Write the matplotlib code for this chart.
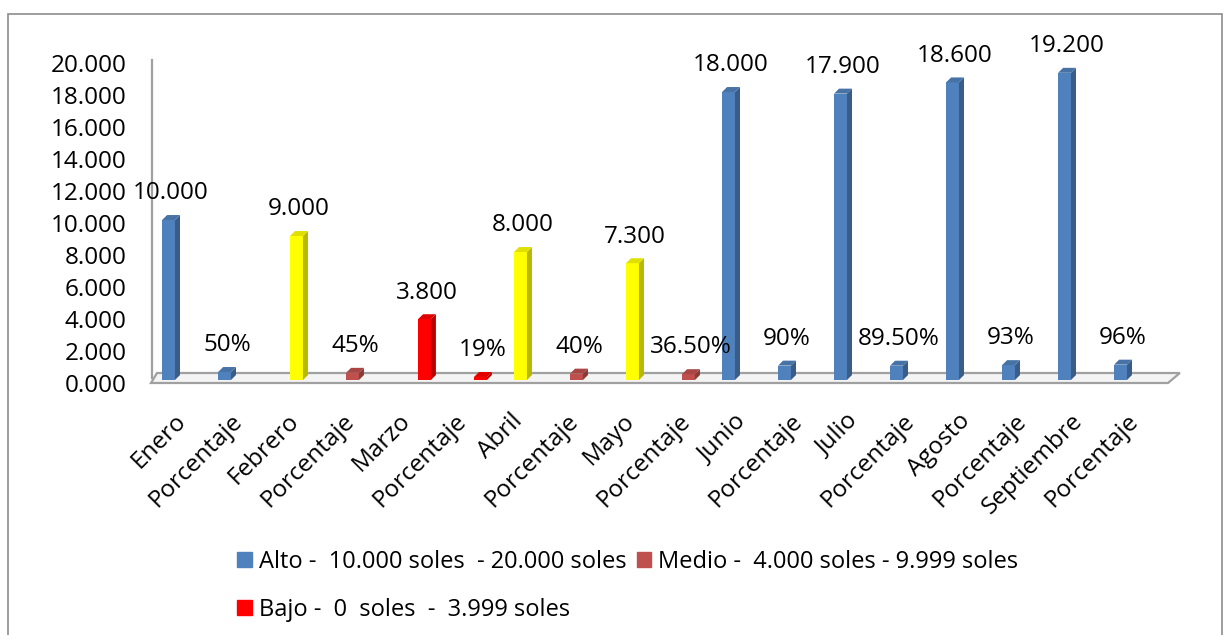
import numpy as np
import matplotlib
matplotlib.use('Agg')
from matplotlib import pyplot as plt
from matplotlib.patches import Polygon, Rectangle
from matplotlib.transforms import ScaledTranslation
from matplotlib.colors import to_rgb

plt.rcParams['font.family'] = ['Open Sans', 'DejaVu Sans']

# datos
categorias = ['Enero', 'Porcentaje', 'Febrero', 'Porcentaje', 'Marzo', 'Porcentaje',
              'Abril', 'Porcentaje', 'Mayo', 'Porcentaje', 'Junio', 'Porcentaje',
              'Julio', 'Porcentaje', 'Agosto', 'Porcentaje', 'Septiembre', 'Porcentaje']
valores = [10.0, 0.50, 9.0, 0.45, 3.8, 0.19, 8.0, 0.40, 7.3, 0.365,
           18.0, 0.90, 17.9, 0.895, 18.6, 0.93, 19.2, 0.96]
etiquetas = ['10.000', '50%', '9.000', '45%', '3.800', '19%', '8.000', '40%',
             '7.300', '36.50%', '18.000', '90%', '17.900', '89.50%', '18.600',
             '93%', '19.200', '96%']
serie = ['Alto', 'Alto', 'Medio', 'Medio', 'Bajo', 'Bajo', 'Medio', 'Medio',
         'Medio', 'Medio', 'Alto', 'Alto', 'Alto', 'Alto', 'Alto', 'Alto',
         'Alto', 'Alto']
series = ['Alto', 'Medio', 'Bajo']
leyenda = ['Alto -  10.000 soles  - 20.000 soles',
           'Medio -  4.000 soles - 9.999 soles',
           'Bajo -  0  soles  -  3.999 soles']
yticks = [0, 2, 4, 6, 8, 10, 12, 14, 16, 18, 20]

color_serie = {'Alto': '#4F81BD', 'Medio': '#C0504D', 'Bajo': '#FF0000'}
amarillo = '#FFFF00'

W_PX, H_PX = 1229, 635
fig = plt.figure(figsize=(W_PX / 100, H_PX / 100), dpi=100)

# marco exterior
fig.add_artist(Rectangle((7.5 / W_PX, -0.05), (1221.5 - 7.5) / W_PX, 1.05 - 14 / H_PX,
                         transform=fig.transFigure, fill=False,
                         edgecolor='#8C8C8C', lw=1.2))

ax = fig.add_axes([149 / W_PX, (H_PX - 383) / H_PX, 1019 / W_PX, 323 / H_PX])
ax.set_xlim(-0.6786, 17.518)
ax.set_ylim(-0.1875, 20)
ax.patch.set_alpha(0)
for s in ax.spines.values():
    s.set_visible(False)

# piso y pared
piso = Polygon([(-0.643, -0.1875), (17.518, -0.1875), (17.73, 0.4375), (-0.536, 0.4375)],
               closed=True, facecolor='#F4F4F4', edgecolor='#A0A0A0', lw=1.6,
               clip_on=False, zorder=1)
ax.add_patch(piso)
ax.plot([-0.625, -0.625], [0.1, 20], color='#A0A0A0', lw=1.6, clip_on=False, zorder=1)

ancho = 0.23
dx, dy = 0.09, 0.31
desp = {'Alto': -0.33, 'Medio': -0.045, 'Bajo': 0.24}

x = np.arange(len(categorias))
for i, (v, s, lab) in enumerate(zip(valores, serie, etiquetas)):
    c = color_serie[s]
    if s == 'Medio' and i % 2 == 0:
        c = amarillo
    rgb = np.array(to_rgb(c))
    x0 = x[i] + desp[s] - ancho / 2
    ax.bar(x0, v, width=ancho, align='edge', color=c, zorder=3)
    lado = Polygon([(x0 + ancho, 0), (x0 + ancho + dx, dy), (x0 + ancho + dx, v + dy),
                    (x0 + ancho, v)], closed=True, facecolor=rgb * 0.72, lw=0, zorder=3)
    tapa = Polygon([(x0, v), (x0 + ancho, v), (x0 + ancho + dx, v + dy), (x0 + dx, v + dy)],
                   closed=True, facecolor=rgb * 0.88, lw=0, zorder=3)
    ax.add_patch(lado)
    ax.add_patch(tapa)
    ax.annotate(lab, (x0 + (ancho + dx) / 2, v + dy), xytext=(0, 7),
                textcoords='offset points', ha='center', va='bottom',
                fontsize=17.5, color='black', zorder=4)

ax.set_yticks(yticks)
ax.set_yticklabels(['%.3f' % t for t in yticks])
ax.set_xticks(x)
ax.set_xticklabels(categorias)
ax.tick_params(axis='y', length=0, pad=16, labelsize=17.5)
ax.tick_params(axis='x', length=0, pad=25, labelsize=17.5)
for lbl in ax.get_yticklabels():
    lbl.set_transform(lbl.get_transform() + ScaledTranslation(0, -3 / 100, fig.dpi_scale_trans))
for lbl in ax.get_xticklabels():
    lbl.set_rotation(45)
    lbl.set_ha('right')
    lbl.set_va('center')
    lbl.set_rotation_mode('anchor')
    lbl.set_transform(lbl.get_transform() + ScaledTranslation(-4 / 100, 0, fig.dpi_scale_trans))

# leyenda: orden para que la fila 1 tenga Alto y Medio
handles = [Rectangle((0, 0), 1, 1, color=color_serie[s]) for s in series]
orden = [0, 2, 1]
fig.legend([handles[k] for k in orden], [leyenda[k] for k in orden],
           ncol=2, loc='upper left', bbox_to_anchor=(237 / W_PX, 1 - 550 / H_PX),
           frameon=False, fontsize=17, borderpad=0, borderaxespad=0,
           handlelength=0.63, handleheight=0.63, handletextpad=0.3,
           columnspacing=0.42, labelspacing=1.0)

fig.savefig('out.png', dpi=100)
